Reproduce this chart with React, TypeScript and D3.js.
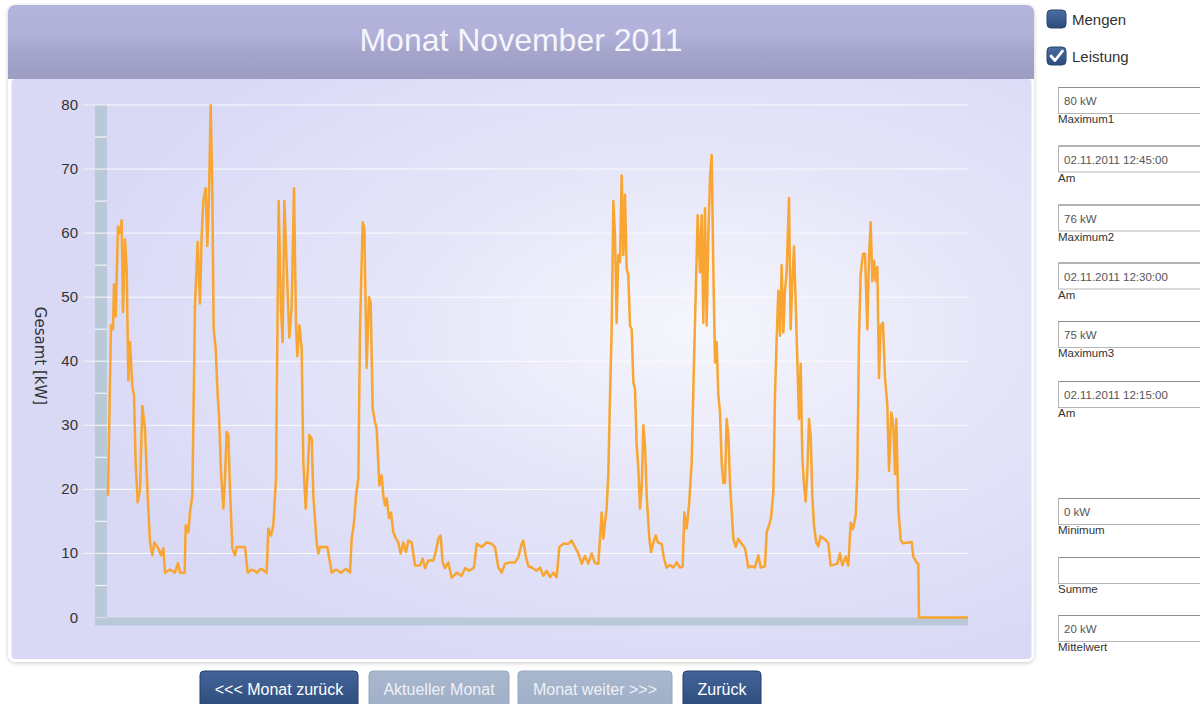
import React from "react";
import * as d3 from "d3";

// ---------- data ----------
const titel = "Monat November 2011";
const yAchsenTitel = "Gesamt [kW]";
const yTicks = [0, 10, 20, 30, 40, 50, 60, 70, 80];
const yMinorTicks = [5, 15, 25, 35, 45, 55, 65, 75];
const xDomain = [0, 258.3];

// time (hours from start) and power (kW)
const stunden = [
  0.3, 1.2, 1.8, 2.1, 2.6, 3.3, 3.9, 4.4, 4.8, 5.4, 5.9, 6.4, 6.9, 7.6, 8.1, 8.6, 9.2, 9.9, 10.6, 11.4,
  12.2, 12.9, 13.6, 14.2, 15.4, 16.2, 16.9, 17.4, 18.9, 20.4, 21.3, 21.9, 23.3, 23.6, 24.4, 24.9, 25.6,
  26.4, 27.2, 27.9, 28.4, 28.9, 29.6, 30.1, 30.6, 31.1, 31.6, 32.0, 32.6, 33.2, 33.6, 34.2, 34.9, 35.4,
  35.9, 36.4, 36.9, 37.6, 38.4, 38.9, 41.4, 42.2, 43.5, 45.0, 46.2, 47.9, 48.4, 49.2, 49.9, 50.7, 51.5,
  52.2, 52.7, 53.2, 54.1, 54.7, 55.4, 56.1, 56.7, 57.1, 57.7, 58.4, 58.9, 59.6, 60.2, 60.7, 61.4, 61.9,
  62.9, 63.4, 63.9, 66.1, 66.7, 67.4, 68.7, 70.2, 71.7, 72.9, 73.4, 74.1, 74.7, 75.4, 75.9, 76.7, 77.2,
  77.9, 78.6, 79.1, 79.7, 80.4, 80.9, 81.7, 82.4, 82.9, 83.4, 83.9, 84.6, 85.2, 85.9, 86.7, 87.4, 88.1,
  88.9, 89.7, 90.4, 91.4, 92.4, 93.9, 94.7, 95.4, 96.4, 97.9, 98.6, 99.4, 100.1, 100.7, 101.4, 102.4,
  103.4, 104.9, 106.4, 107.4, 108.7,
  110.1, 110.9, 112.4, 113.9, 115.4, 116.4, 117.4, 118.4, 119.4, 120.9, 122.4, 123.4, 124.4, 124.9,
  125.7, 126.4, 127.4, 128.9, 129.9, 130.9, 131.9, 132.9, 133.9, 134.9, 135.7, 136.9, 138.4, 139.4,
  140.4, 141.4, 142.4, 143.4, 144.4, 145.4, 146.4, 147.4, 147.9, 148.4, 148.9, 149.4, 149.9, 150.4,
  150.9, 151.4, 151.9,
  152.4, 152.9, 153.4, 153.9, 154.4, 154.9, 155.4, 155.9, 156.4, 156.9, 157.4, 157.9, 158.4, 158.9,
  159.4, 159.9, 160.4, 160.9, 161.4, 161.9, 162.7, 163.2, 163.9, 164.6, 165.3, 166.4, 167.1, 167.9,
  168.9, 169.9, 170.9, 171.9, 172.7, 173.2, 173.9, 174.6, 175.4, 176.1, 176.7, 177.2, 177.9, 178.4,
  178.9, 179.4, 179.9, 180.4, 180.9, 181.4, 181.9, 182.4, 182.9, 183.4, 183.9, 184.4, 184.9, 185.4,
  185.9, 186.4, 186.9, 187.9, 188.6, 189.4, 190.4, 191.4, 192.4, 193.4, 194.4, 195.4, 196.1, 197.4,
  197.9, 198.6, 199.2, 199.9, 200.4, 200.9, 201.4, 201.9, 202.4, 202.9, 203.4, 203.9, 204.6,
  205.1, 205.6, 206.1, 206.6, 207.1, 207.6, 208.1, 208.6, 209.1, 209.6, 210.1, 210.6, 211.1, 211.6,
  212.1, 212.8, 213.4, 214.1, 215.6, 216.4, 217.1, 219.1, 219.9, 220.6, 221.6, 222.4, 223.1, 223.8,
  224.6, 225.1, 225.6, 226.1, 226.8, 227.4, 228.1, 228.6, 229.1, 229.6, 230.1, 230.6, 231.1, 231.6,
  232.1, 232.8, 233.4, 234.1, 234.6, 235.3, 235.9, 236.4, 236.8, 237.4, 238.1, 238.8, 241.4, 241.9,
  243.1, 243.4, 243.6, 258.3,
];

const leistungKW = [
  19, 45.6, 45, 52, 47, 61, 60, 62, 47.7, 59, 54.5, 37, 43, 36, 34.7, 24, 18, 20, 33, 29.5,
  19, 11.7, 9.7, 11.7, 10.8, 9.7, 10.8, 7, 7.5, 7, 8.5, 7, 7, 14.4, 13.3, 16.4, 19,
  48.7, 58.6, 49, 59.7, 65, 67, 58, 66, 80, 66, 45, 42, 34.7, 31.6, 22.7, 17, 21.7,
  29, 28.5, 20, 10.8, 9.7, 11, 11, 7, 7.5, 7, 7.6, 7, 13.9, 12.8, 14.4, 21.7, 65,
  48, 43, 65, 52, 43.7, 48.5, 67, 45.7, 40.8, 45.6, 42, 24.3, 17, 22.7, 28.5, 28, 19,
  11.7, 10, 11, 11, 9.2, 7, 7.5, 7, 7.6, 7, 12.3, 14.8, 19, 21.7, 45, 61.7, 60.8,
  39, 50, 49.2, 32.6, 30.5, 29.5, 20.6, 22.2, 19, 17.5, 18.6, 15.5, 16.4, 13.3, 12.3, 11.7, 10,
  11.7, 10.2, 12, 11.7, 8.1, 8.1, 9.2, 7.7, 8.9, 8.9, 10.2, 12.3, 12.8, 8.6, 7.7, 8.6,
  6.2, 7, 6.5, 7.7, 7.3,
  7.8, 11.5, 11, 11.7, 11.5, 11, 7.8, 7, 8.4, 8.6, 8.6, 9.4, 11.5, 12,
  9.4, 8, 7.8, 7.3, 7.8, 6.5, 7.3, 6.3, 7, 6.3, 11, 11.5, 11.5, 12,
  11, 10, 8.4, 9.6, 8.4, 10, 8.5, 8.4, 12.3, 16.4, 12.3, 14.8, 17, 22.5,
  34.5, 45, 65,
  59.7, 46, 56.6, 55.5, 69, 56.6, 66, 54.5, 53.4, 45.6, 45, 36.7, 35.7, 26.9,
  23.3, 17, 20.2, 30, 26.9, 19, 12.3, 10.2, 11.7, 12.8, 11.7, 11.5, 9.2, 7.8,
  8.2, 7.8, 8.6, 7.8, 8, 16.4, 13.9, 17.5, 24.2, 39.8, 52.3, 62.8, 53.9, 62.8,
  46, 63.9, 45.6, 59.7, 68.6, 72.2, 54.5, 39.8, 43, 34.7, 32, 24.2, 21, 21,
  31, 28.5, 21, 12.3, 11, 12.3, 11.5, 10.8, 7.8, 8, 7.8, 9.7, 7.8, 8,
  13.3, 14.4, 15.5, 19.5, 34.7, 43.6, 51, 44, 55, 44.5, 51, 54, 65.5,
  45, 52.5, 57.9, 49.3, 40.1, 31, 39.6, 25, 20.8, 18.1, 22.9, 31, 28.3, 19.1,
  14.3, 11.6, 11.1, 12.7, 12.1, 11.6, 8.1, 8.4, 10, 8.1, 9.5, 8.1, 14.8, 13.8,
  15.9, 22.4, 43.9, 53.6, 56.8, 56.8, 45, 56.2, 61.7, 52.5, 55.7, 52.5, 54.7, 37.4,
  45.5, 46, 37.4, 33.1, 22.9, 32, 29.9, 22.4, 31, 17, 12.1, 11.6, 11.8, 9.5,
  8.4, 8.4, 0, 0,
];

const checkboxLabels = ["Mengen", "Leistung"];
const checkboxChecked = [false, true];
const feldWerte = [
  "80 kW", "02.11.2011 12:45:00", "76 kW", "02.11.2011 12:30:00", "75 kW",
  "02.11.2011 12:15:00", "0 kW", "", "20 kW",
];
const feldLabels = ["Maximum1", "Am", "Maximum2", "Am", "Maximum3", "Am", "Minimum", "Summe", "Mittelwert"];
const buttonLabels = ["<<< Monat zurück", "Aktueller Monat", "Monat weiter >>>", "Zurück"];
const buttonAktiv = [true, false, false, true];

// ---------- layout ----------
const W = 1200;
const H = 704;
const plotLeft = 107;
const plotRight = 968;
const plotTop = 105;
const plotBottom = 617.5;
const FONT = "'Liberation Sans', Arial, Helvetica, sans-serif";

const feldTops = [87, 145.5, 204.5, 262.5, 321, 381, 498, 557, 615];
const buttonX = [200, 369, 518, 683];
const buttonW = [158, 140, 154, 78];

export default function App() {
  const x = d3.scaleLinear().domain(xDomain).range([plotLeft, plotRight]);
  const y = d3.scaleLinear().domain([0, 80]).range([plotBottom, plotTop]);
  const data = stunden.map((t, i) => ({ t, v: leistungKW[i] }));
  const line = d3
    .line<{ t: number; v: number }>()
    .x((d) => x(d.t))
    .y((d) => y(d.v))
    .curve(d3.curveLinear);

  return (
    <div style={{ position: "fixed", left: 0, top: 0, width: W, height: H, background: "#fff" }}>
      <svg width={W} height={H} style={{ display: "block" }} fontFamily={FONT}>
        <defs>
          <linearGradient id="hdr" x1="0" y1="0" x2="0" y2="1">
            <stop offset="0%" stopColor="#b3b3dd" />
            <stop offset="40%" stopColor="#b1b1da" />
            <stop offset="60%" stopColor="#a6a6cd" />
            <stop offset="100%" stopColor="#9d9dc3" />
          </linearGradient>
          <radialGradient id="plotbg" cx="0.67" cy="0.43" r="0.62">
            <stop offset="0%" stopColor="#f6f6fd" />
            <stop offset="45%" stopColor="#e6e6f9" />
            <stop offset="100%" stopColor="#d9d9f6" />
          </radialGradient>
          <linearGradient id="btnDark" x1="0" y1="0" x2="0" y2="1">
            <stop offset="0%" stopColor="#43649a" />
            <stop offset="100%" stopColor="#2a4876" />
          </linearGradient>
          <linearGradient id="btnLight" x1="0" y1="0" x2="0" y2="1">
            <stop offset="0%" stopColor="#a9b8ce" />
            <stop offset="100%" stopColor="#9dadc6" />
          </linearGradient>
          <linearGradient id="cb" x1="0" y1="0" x2="0" y2="1">
            <stop offset="0%" stopColor="#4a6ea3" />
            <stop offset="100%" stopColor="#2c4b7c" />
          </linearGradient>
          <filter id="shadow" x="-5%" y="-5%" width="110%" height="110%">
            <feDropShadow dx="0" dy="1" stdDeviation="2" floodColor="#000" floodOpacity="0.22" />
          </filter>
        </defs>

        {/* chart container */}
        <rect x={8} y={5} width={1026} height={657} rx={8} fill="#fff" filter="url(#shadow)" />
        <path d="M8,79 V13 Q8,5 16,5 H1026 Q1034,5 1034,13 V79 Z" fill="url(#hdr)" />
        <rect x={11.5} y={79} width={1020} height={580} rx={4} fill="url(#plotbg)" />
        <text x={521} y={51} textAnchor="middle" fontSize={32} fill="#f5f5fb">
          {titel}
        </text>

        {/* axis band */}
        <rect x={95} y={plotTop} width={12} height={plotBottom + 8 - plotTop} fill="#b9c9d8" />
        <rect x={plotLeft} y={plotBottom} width={plotRight - plotLeft} height={8} fill="#b9c9d8" />

        {/* gridlines and ticks */}
        {yTicks.map((t) => (
          <g key={"g" + t}>
            {t > 0 && (
              <line x1={plotLeft} x2={plotRight} y1={y(t)} y2={y(t)} stroke="#fbfbff" strokeWidth={1} />
            )}
            <line x1={83} x2={107} y1={y(t)} y2={y(t)} stroke={t > 0 ? "#eef0f6" : "#d8dce6"} strokeWidth={1.2} />
            <text x={78} y={y(t) + 5} textAnchor="end" fontSize={15} fill="#333">
              {t}
            </text>
          </g>
        ))}
        {yMinorTicks.map((t) => (
          <line key={"m" + t} x1={95} x2={107} y1={y(t)} y2={y(t)} stroke="#f2f4f8" strokeWidth={1.2} />
        ))}

        <text
          transform={`translate(35,356) rotate(90)`}
          textAnchor="middle"
          fontSize={15}
          fontFamily="'DejaVu Sans', Verdana, sans-serif"
          fill="#333"
        >
          {yAchsenTitel}
        </text>

        {/* series */}
        <path d={line(data) || ""} fill="none" stroke="#f8a531" strokeWidth={2.5} strokeLinejoin="round" />

        {/* right panel: checkboxes */}
        {checkboxLabels.map((lab, i) => {
          const top = 10 + i * 37;
          return (
            <g key={lab}>
              <rect x={1047} y={top} width={19} height={18} rx={4} fill="url(#cb)" stroke="#2a4674" strokeWidth={1} />
              {checkboxChecked[i] && (
                <path
                  d={`M1051,${top + 9} L1055,${top + 13.5} L1062.5,${top + 4}`}
                  fill="none"
                  stroke="#fff"
                  strokeWidth={2.8}
                  strokeLinecap="round"
                  strokeLinejoin="round"
                />
              )}
              <text x={1072} y={top + 15} fontSize={15} fill="#333">
                {lab}
              </text>
            </g>
          );
        })}

        {/* right panel: fields */}
        {feldWerte.map((v, i) => {
          const top = feldTops[i];
          return (
            <g key={"f" + i}>
              <rect x={1058.5} y={top + 0.5} width={160} height={26} fill="#fff" stroke="#b4b4b4" />
              <line x1={1058.5} x2={1218} y1={top + 0.5} y2={top + 0.5} stroke="#8e8e8e" />
              <text x={1064} y={top + 18} fontSize={11.5} fill="#555">
                {v}
              </text>
              <text x={1058} y={top + 36} fontSize={11.5} fill="#333">
                {feldLabels[i]}
              </text>
            </g>
          );
        })}

        {/* buttons */}
        {buttonLabels.map((b, i) => (
          <g key={b}>
            <rect
              x={buttonX[i]}
              y={671}
              width={buttonW[i]}
              height={44}
              rx={4}
              fill={buttonAktiv[i] ? "url(#btnDark)" : "url(#btnLight)"}
              stroke={buttonAktiv[i] ? "#233f6b" : "#97a7bf"}
            />
            <text
              x={buttonX[i] + buttonW[i] / 2}
              y={695}
              textAnchor="middle"
              fontSize={16}
              fill={buttonAktiv[i] ? "#ffffff" : "#eef1f7"}
            >
              {b}
            </text>
          </g>
        ))}
      </svg>
    </div>
  );
}
